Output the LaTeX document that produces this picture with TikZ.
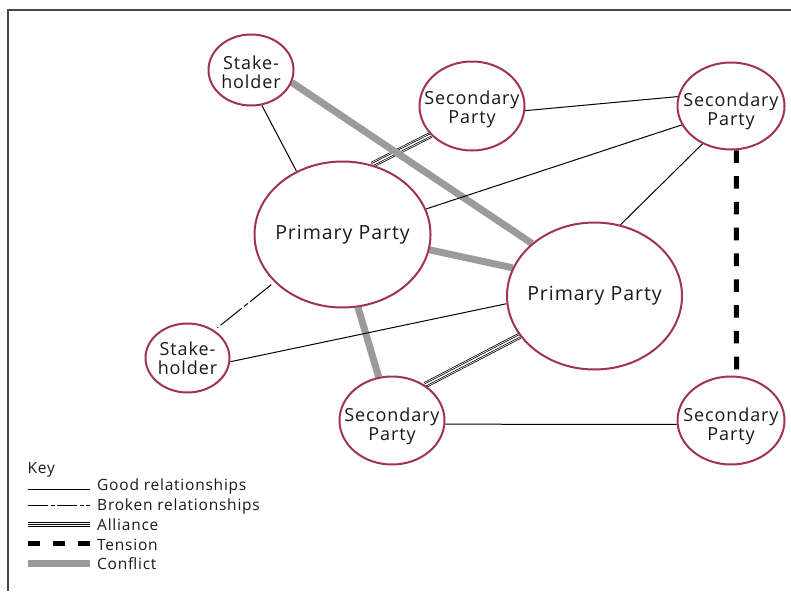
\documentclass[tikz,border=0pt]{standalone}
\usepackage{fontspec}
\setmainfont{Open Sans}[LetterSpace=5]
\usetikzlibrary{shapes.geometric}
\pgfdeclarelayer{links}
\pgfsetlayers{links,main}

\definecolor{partyred}{RGB}{160,52,78}
\definecolor{conflictgray}{RGB}{155,155,155}
\definecolor{framegray}{RGB}{70,70,70}
\definecolor{inkblack}{RGB}{25,25,25}

\tikzset{
  party/.style={ellipse, draw=partyred, line width=2pt, fill=white, inner sep=0pt},
  partytext/.style={align=center, text=inkblack, inner sep=0pt,
    font=\fontsize{18}{19}\selectfont},
  primarytext/.style={align=center, text=inkblack, inner sep=0pt,
    font=\fontsize{19.5}{20}\selectfont},
  keytext/.style={text=inkblack, inner sep=0pt, font=\fontsize{15.5}{16}\selectfont},
  goodrel/.style={draw=black, line width=1pt},
  brokenrel/.style={draw=black, line width=1pt, dash pattern=on 27pt off 3pt on 5pt off 3pt},
  brokenkey/.style={draw=black, line width=1pt, dash pattern=on 20pt off 2.5pt on 4pt off 2.5pt},
  alliancerel/.style={draw=black, line width=6pt,
    postaction={draw=white, line width=4.5pt},
    postaction={draw=black, line width=3pt},
    postaction={draw=white, line width=1.5pt}},
  alliancekey/.style={draw=black, line width=5pt,
    postaction={draw=white, line width=3pt},
    postaction={draw=black, line width=1pt}},
  tensionrel/.style={draw=black, line width=5pt, dash pattern=on 12.6pt off 13.2pt},
  tensionkey/.style={draw=black, line width=5pt, dash pattern=on 12pt off 13pt},
  conflictrel/.style={draw=conflictgray, line width=7pt},
}

\begin{document}
\begin{tikzpicture}[x=1pt,y=-1pt]
\useasboundingbox (0,0) rectangle (791,591);

% frame
\draw[framegray, line width=1.5pt] (791,10) -- (8,10) -- (8,591);

% parties
\node[party, minimum width=85pt, minimum height=71pt,
  label={[partytext, yshift=-2pt]center:Stake-\\holder}] (shT) at (251,70) {};
\node[party, minimum width=105pt, minimum height=89pt,
  label={[partytext, yshift=-3pt]center:Secondary\\Party}] (secM) at (472,106) {};
\node[party, minimum width=107pt, minimum height=87pt,
  label={[partytext, yshift=-5pt]center:Secondary\\Party}] (secTR) at (731,106) {};
\node[party, minimum width=176pt, minimum height=146pt,
  label={[primarytext]center:Primary Party}] (ppL) at (342.5,234.5) {};
\node[party, minimum width=175pt, minimum height=147pt,
  label={[primarytext]center:Primary Party}] (ppR) at (594.5,296) {};
\node[party, minimum width=84pt, minimum height=69pt,
  label={[partytext]center:Stake-\\holder}] (shL) at (187.5,358) {};
\node[party, minimum width=105pt, minimum height=88pt,
  label={[partytext, yshift=-6pt]center:Secondary\\Party}] (secB) at (392,420.5) {};
\node[party, minimum width=107pt, minimum height=88pt,
  label={[partytext, yshift=-6pt]center:Secondary\\Party}] (secBR) at (731,420.5) {};

% relationships, kept beneath the ellipses
\begin{pgfonlayer}{links}
  \draw[alliancerel] (ppL.67.5) -- (secM.215);
  \draw[alliancerel] (secB.47.1) -- (ppR.208.6);
  \draw[conflictrel] (shT.-17.2) -- (ppR.140.7);
  \draw[conflictrel] (ppL.-10) -- (ppR.161);
  \draw[conflictrel] (ppL.-78.2) -- (secB.107.4);
  \draw[goodrel] (shT.-73) -- (ppL.126.8);
  \draw[goodrel] (secM.-5.4) -- (secTR.170.2);
  \draw[goodrel] (ppL.17.7) -- (secTR.201.6);
  \draw[goodrel] (ppR.70.8) -- (secTR.233.1);
  \draw[goodrel] (shL.-5.8) -- (ppR.185.9);
  \draw[goodrel] (secB.-4.9) -- (secBR.184.8);
  \draw[brokenrel, shorten <=4pt, shorten >=4pt] (ppL.215.5) -- (shL.46.4);
  \draw[tensionrel] (secTR.-83.5) -- (secBR.83.6);
\end{pgfonlayer}

% key
\node[keytext, anchor=base west] (keyhead) at (27.5,473) {Key};
\coordinate (kGa) at (28,489);  \coordinate (kGb) at (90,489);
\coordinate (kBa) at (28,505);  \coordinate (kBb) at (90,505);
\coordinate (kAa) at (28,524.5);  \coordinate (kAb) at (90,524.5);
\coordinate (kTa) at (28,543);  \coordinate (kTb) at (90,543);
\coordinate (kCa) at (28,563);  \coordinate (kCb) at (90,563);
\draw[goodrel] (kGa) -- (kGb);
\draw[brokenkey] (kBa) -- (kBb);
\draw[alliancekey] (kAa) -- (kAb);
\draw[tensionkey] (kTa) -- (kTb);
\draw[conflictrel] (kCa) -- (kCb);
\node[keytext, anchor=base west] (kGt) at (97,490) {Good relationships};
\node[keytext, anchor=base west] (kBt) at (97,510) {Broken relationships};
\node[keytext, anchor=base west] (kAt) at (97,530) {Alliance};
\node[keytext, anchor=base west] (kTt) at (97,550) {Tension};
\node[keytext, anchor=base west] (kCt) at (97,569) {Conflict};
\end{tikzpicture}
\end{document}
